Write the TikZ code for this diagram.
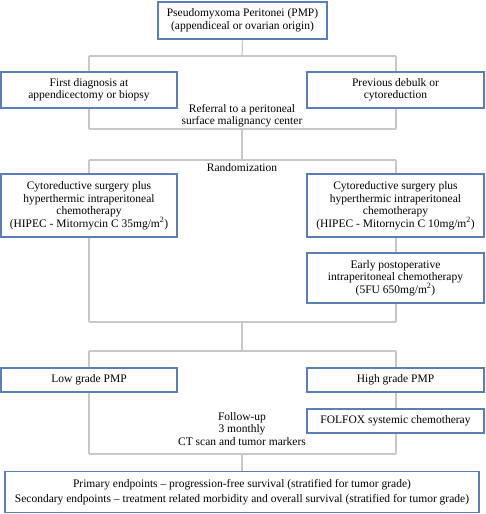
\documentclass[tikz,border=0pt]{standalone}
\usepackage{fontspec}
\setmainfont{Liberation Serif}
\usetikzlibrary{backgrounds}
\definecolor{boxblue}{HTML}{5B7DB8}
\definecolor{linegrey}{HTML}{C8C8C8}
\begin{document}
\begin{tikzpicture}[x=1pt,y=-1pt,
  box/.style={draw=boxblue, line width=1.4pt, fill=white, align=center, inner sep=0pt,
    font=\fontsize{11.5}{12.5}\selectfont},
  lbl/.style={align=center, inner sep=0pt, font=\fontsize{11.5}{12.5}\selectfont},
  conn/.style={draw=linegrey, line width=1.2pt}]
\useasboundingbox (0,0) rectangle (485,514);
% boxes
\node[box, minimum width=169pt, minimum height=37pt] (top) at (242.5,20.5)
  {Pseudomyxoma Peritonei (PMP)\\(appendiceal or ovarian origin)};
\node[box, minimum width=176pt, minimum height=36pt] (first) at (89,90)
  {First diagnosis at\\appendicectomy or biopsy};
\node[box, minimum width=177pt, minimum height=36pt] (prev) at (395.5,90)
  {Previous debulk or\\cytoreduction};
\node[lbl] (referral) at (242,115.5) {Referral to a peritoneal\\surface malignancy center};
\node[lbl] (random) at (242,167.5) {Randomization};
\node[box, minimum width=176pt, minimum height=63pt] (crsA) at (89,205.5)
  {Cytoreductive surgery plus\\hyperthermic intraperitoneal\\chemotherapy\\(HIPEC - Mitornycin C 35mg/m\textsuperscript{2})};
\node[box, minimum width=177pt, minimum height=63pt] (crsB) at (395.5,205.5)
  {Cytoreductive surgery plus\\hyperthermic intraperitoneal\\chemotherapy\\(HIPEC - Mitornycin C 10mg/m\textsuperscript{2})};
\node[box, minimum width=177pt, minimum height=50pt] (epic) at (395.5,278)
  {Early postoperative\\intraperitoneal chemotherapy\\(5FU 650mg/m\textsuperscript{2})};
\node[box, minimum width=176pt, minimum height=24pt] (low) at (89,380) {Low grade PMP};
\node[box, minimum width=177pt, minimum height=24pt] (high) at (395.5,380) {High grade PMP};
\node[box, minimum width=177pt, minimum height=24pt] (folfox) at (395.5,421) {FOLFOX systemic chemotheray};
\node[lbl] (follow) at (242,429) {Follow-up\\3 monthly\\CT scan and tumor markers};
\node[box, minimum width=474pt, minimum height=41pt] (end) at (242,492)
  {Primary endpoints -- progression-free survival (stratified for tumor grade)\\[2pt]Secondary endpoints -- treatment related morbidity and overall survival (stratified for tumor grade)};
% junctions
\coordinate (a0) at (242,56);
\coordinate (aL) at (89,56);
\coordinate (aR) at (396,56);
\coordinate (bL) at (89,129);
\coordinate (bR) at (396,129);
\coordinate (b0) at (242,129);
\coordinate (c0) at (242,160);
\coordinate (cL) at (89,160);
\coordinate (cR) at (396,160);
\coordinate (dL) at (89,322);
\coordinate (dR) at (396,322);
\coordinate (d0) at (242,322);
\coordinate (e0) at (242,351);
\coordinate (eL) at (89,351);
\coordinate (eR) at (396,351);
\coordinate (fL) at (89,454);
\coordinate (fR) at (396,454);
\coordinate (f0) at (242,454);
\begin{scope}[on background layer]
\draw[conn] (top.south) -- (a0);
\draw[conn] (aL) -- (aR);
\draw[conn] (aL) -- (bL);
\draw[conn] (aR) -- (bR);
\draw[conn] (bL) -- (bR);
\draw[conn] (b0) -- (c0);
\draw[conn] (cL) -- (cR);
\draw[conn] (cL) -- (dL);
\draw[conn] (cR) -- (dR);
\draw[conn] (dL) -- (dR);
\draw[conn] (d0) -- (e0);
\draw[conn] (eL) -- (eR);
\draw[conn] (eL) -- (fL);
\draw[conn] (eR) -- (fR);
\draw[conn] (fL) -- (fR);
\draw[conn] (f0) -- (end.north);
\end{scope}
\end{tikzpicture}
\end{document}
